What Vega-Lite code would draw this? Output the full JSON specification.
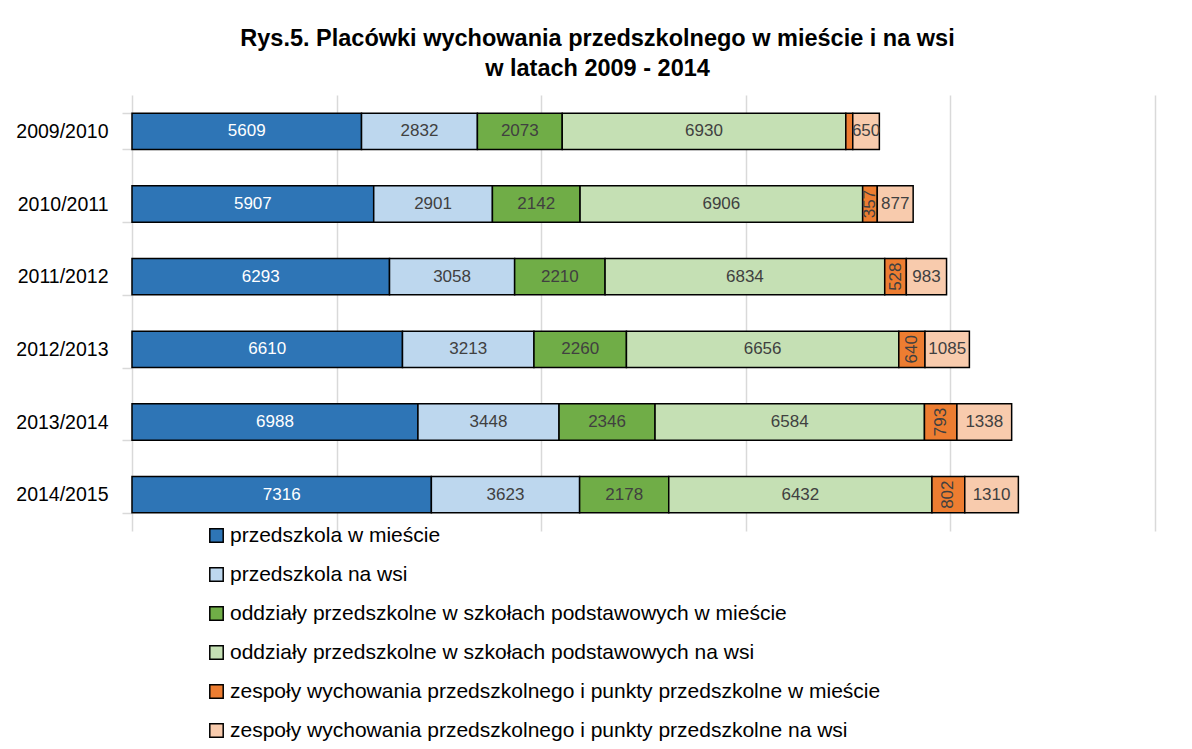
{
  "$schema": "https://vega.github.io/schema/vega-lite/v6.json",
  "width": 1023,
  "height": 436,
  "autosize": {"type": "none"},
  "padding": {"left": 132, "top": 95, "right": 37, "bottom": 218},
  "background": "white",
  "title": {
    "text": ["Rys.5. Placówki wychowania przedszkolnego w mieście i na wsi", "w latach 2009 - 2014"],
    "font": "Liberation Sans",
    "fontSize": 23.5,
    "fontWeight": "bold",
    "color": "black",
    "anchor": "middle",
    "dx": -46,
    "offset": 5,
    "lineHeight": 30
  },
  "config": {
    "view": {"stroke": null},
    "font": "Liberation Sans"
  },
  "data": {
    "values": [
      {"year": "2009/2010", "k": 1, "cat": "przedszkola w mieście", "value": 5609},
      {"year": "2009/2010", "k": 2, "cat": "przedszkola na wsi", "value": 2832},
      {"year": "2009/2010", "k": 3, "cat": "oddziały przedszkolne w szkołach podstawowych w mieście", "value": 2073},
      {"year": "2009/2010", "k": 4, "cat": "oddziały przedszkolne w szkołach podstawowych na wsi", "value": 6930},
      {"year": "2009/2010", "k": 5, "cat": "zespoły wychowania przedszkolnego i punkty przedszkolne w mieście", "value": 170},
      {"year": "2009/2010", "k": 6, "cat": "zespoły wychowania przedszkolnego i punkty przedszkolne na wsi", "value": 650},
      {"year": "2010/2011", "k": 1, "cat": "przedszkola w mieście", "value": 5907},
      {"year": "2010/2011", "k": 2, "cat": "przedszkola na wsi", "value": 2901},
      {"year": "2010/2011", "k": 3, "cat": "oddziały przedszkolne w szkołach podstawowych w mieście", "value": 2142},
      {"year": "2010/2011", "k": 4, "cat": "oddziały przedszkolne w szkołach podstawowych na wsi", "value": 6906},
      {"year": "2010/2011", "k": 5, "cat": "zespoły wychowania przedszkolnego i punkty przedszkolne w mieście", "value": 357},
      {"year": "2010/2011", "k": 6, "cat": "zespoły wychowania przedszkolnego i punkty przedszkolne na wsi", "value": 877},
      {"year": "2011/2012", "k": 1, "cat": "przedszkola w mieście", "value": 6293},
      {"year": "2011/2012", "k": 2, "cat": "przedszkola na wsi", "value": 3058},
      {"year": "2011/2012", "k": 3, "cat": "oddziały przedszkolne w szkołach podstawowych w mieście", "value": 2210},
      {"year": "2011/2012", "k": 4, "cat": "oddziały przedszkolne w szkołach podstawowych na wsi", "value": 6834},
      {"year": "2011/2012", "k": 5, "cat": "zespoły wychowania przedszkolnego i punkty przedszkolne w mieście", "value": 528},
      {"year": "2011/2012", "k": 6, "cat": "zespoły wychowania przedszkolnego i punkty przedszkolne na wsi", "value": 983},
      {"year": "2012/2013", "k": 1, "cat": "przedszkola w mieście", "value": 6610},
      {"year": "2012/2013", "k": 2, "cat": "przedszkola na wsi", "value": 3213},
      {"year": "2012/2013", "k": 3, "cat": "oddziały przedszkolne w szkołach podstawowych w mieście", "value": 2260},
      {"year": "2012/2013", "k": 4, "cat": "oddziały przedszkolne w szkołach podstawowych na wsi", "value": 6656},
      {"year": "2012/2013", "k": 5, "cat": "zespoły wychowania przedszkolnego i punkty przedszkolne w mieście", "value": 640},
      {"year": "2012/2013", "k": 6, "cat": "zespoły wychowania przedszkolnego i punkty przedszkolne na wsi", "value": 1085},
      {"year": "2013/2014", "k": 1, "cat": "przedszkola w mieście", "value": 6988},
      {"year": "2013/2014", "k": 2, "cat": "przedszkola na wsi", "value": 3448},
      {"year": "2013/2014", "k": 3, "cat": "oddziały przedszkolne w szkołach podstawowych w mieście", "value": 2346},
      {"year": "2013/2014", "k": 4, "cat": "oddziały przedszkolne w szkołach podstawowych na wsi", "value": 6584},
      {"year": "2013/2014", "k": 5, "cat": "zespoły wychowania przedszkolnego i punkty przedszkolne w mieście", "value": 793},
      {"year": "2013/2014", "k": 6, "cat": "zespoły wychowania przedszkolnego i punkty przedszkolne na wsi", "value": 1338},
      {"year": "2014/2015", "k": 1, "cat": "przedszkola w mieście", "value": 7316},
      {"year": "2014/2015", "k": 2, "cat": "przedszkola na wsi", "value": 3623},
      {"year": "2014/2015", "k": 3, "cat": "oddziały przedszkolne w szkołach podstawowych w mieście", "value": 2178},
      {"year": "2014/2015", "k": 4, "cat": "oddziały przedszkolne w szkołach podstawowych na wsi", "value": 6432},
      {"year": "2014/2015", "k": 5, "cat": "zespoły wychowania przedszkolnego i punkty przedszkolne w mieście", "value": 802},
      {"year": "2014/2015", "k": 6, "cat": "zespoły wychowania przedszkolnego i punkty przedszkolne na wsi", "value": 1310}
    ]
  },
  "transform": [
    {"stack": "value", "groupby": ["year"], "sort": [{"field": "k", "order": "ascending"}], "as": ["v0", "v1"]},
    {"calculate": "(datum.v0 + datum.v1) / 2", "as": "mid"}
  ],
  "encoding": {
    "y": {
      "field": "year",
      "type": "nominal",
      "sort": null,
      "title": null,
      "scale": {"paddingInner": 0.5, "paddingOuter": 0.25},
      "axis": {
        "labelFont": "Liberation Sans",
        "labelFontSize": 19.5,
        "labelColor": "black",
        "labelPadding": 14,
        "tickBand": "extent",
        "tickColor": "#d9d9d9",
        "tickSize": 10,
        "tickWidth": 1.5,
        "domainColor": "#d9d9d9",
        "domainWidth": 1.5,
        "grid": false
      }
    }
  },
  "layer": [
    {
      "mark": {"type": "bar", "stroke": "black", "strokeWidth": 1.5},
      "encoding": {
        "x": {
          "field": "v0",
          "type": "quantitative",
          "title": null,
          "scale": {"domain": [0, 25000], "nice": false},
          "axis": {
            "values": [5000, 10000, 15000, 20000, 25000],
            "labels": false,
            "ticks": false,
            "domain": false,
            "grid": true,
            "gridColor": "#d9d9d9",
            "gridWidth": 1.5
          }
        },
        "x2": {"field": "v1"},
        "color": {
          "field": "cat",
          "type": "nominal",
          "title": null,
          "scale": {
            "domain": [
              "przedszkola w mieście",
              "przedszkola na wsi",
              "oddziały przedszkolne w szkołach podstawowych w mieście",
              "oddziały przedszkolne w szkołach podstawowych na wsi",
              "zespoły wychowania przedszkolnego i punkty przedszkolne w mieście",
              "zespoły wychowania przedszkolnego i punkty przedszkolne na wsi"
            ],
            "range": ["#2E75B6", "#BDD7EE", "#70AD47", "#C5E0B4", "#ED7D31", "#F8CBAD"]
          },
          "legend": {
            "orient": "none",
            "legendX": 74,
            "legendY": 430,
            "direction": "vertical",
            "symbolType": "square",
            "symbolSize": 180,
            "symbolStrokeColor": "black",
            "symbolStrokeWidth": 1.5,
            "symbolOpacity": 1,
            "labelFont": "Liberation Sans",
            "labelFontSize": 21,
            "labelColor": "black",
            "labelLimit": 1000,
            "labelOffset": 3,
            "rowPadding": 17
          }
        }
      }
    },
    {
      "transform": [{"filter": "datum.k != 5"}],
      "mark": {"type": "text", "font": "Liberation Sans", "fontSize": 17, "align": "center", "baseline": "middle"},
      "encoding": {
        "x": {"field": "mid", "type": "quantitative"},
        "text": {"field": "value", "type": "quantitative", "format": "d"},
        "color": {
          "condition": {"test": "datum.k == 1", "value": "white"},
          "value": "#404040"
        }
      }
    },
    {
      "transform": [{"filter": "datum.k == 5 && datum.value >= 300"}],
      "mark": {"type": "text", "font": "Liberation Sans", "fontSize": 17, "align": "center", "baseline": "middle", "angle": 270, "color": "#404040"},
      "encoding": {
        "x": {"field": "mid", "type": "quantitative"},
        "text": {"field": "value", "type": "quantitative", "format": "d"}
      }
    }
  ]
}
